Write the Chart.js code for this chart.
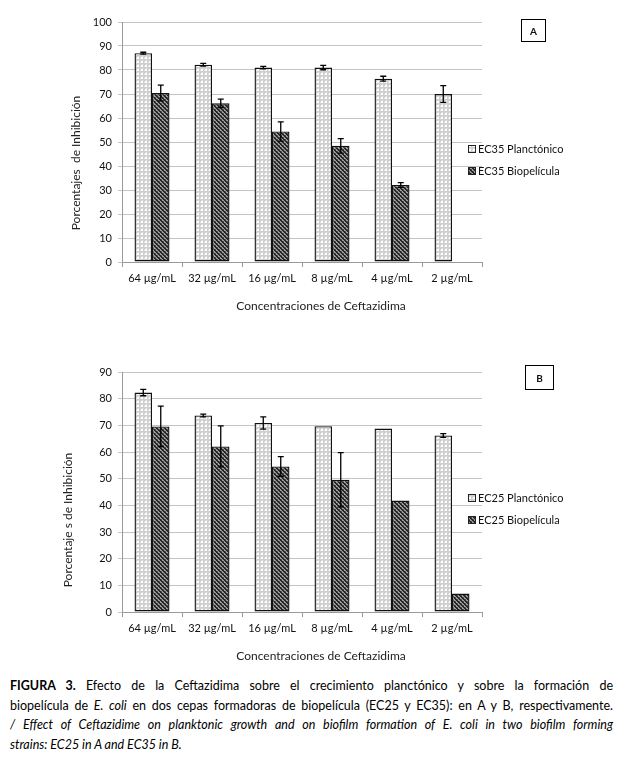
<!DOCTYPE html>
<html lang="es">
<head>
<meta charset="UTF-8">
<title>Figura 3</title>
<script src="https://cdn.jsdelivr.net/npm/chart.js@4.4.1/dist/chart.umd.min.js"></script>
<style>
  body { margin: 0; background: #fff; }
  #page { position: relative; width: 624px; height: 777px; background: #fff; font-family: Lato, sans-serif; color: #111; }
  canvas { position: absolute; left: 0; }
  .ytitle { position: absolute; transform: translate(-50%, -50%) rotate(-90deg); white-space: nowrap; font-size: 12px; color: #222; }
  .xtitle { position: absolute; transform: translate(-50%, -50%); white-space: nowrap; font-size: 12px; color: #222; }
  .tag { position: absolute; border: 1px solid #000; font-size: 10px; font-weight: bold; display: flex; align-items: center; justify-content: center; box-sizing: border-box; }
  #caption { position: absolute; left: 10px; top: 676px; width: 603px; font-size: 12.5px; line-height: 19.7px; color: #000; }
  #caption .j { text-align: justify; text-align-last: justify; }
</style>
</head>
<body>
<div id="page">
  <canvas id="chartA" width="624" height="316" style="top:0"></canvas>
  <canvas id="chartB" width="624" height="325" style="top:340px"></canvas>

  <div class="ytitle" style="left:75px; top:163px">Porcentajes&nbsp; de Inhibición</div>
  <div class="xtitle" style="left:321px; top:305px">Concentraciones de Ceftazidima</div>
  <div class="tag" style="left:521px; top:19px; width:25px; height:23px">A</div>

  <div class="ytitle" style="left:67px; top:520px">Porcentaje s de Inhibición</div>
  <div class="xtitle" style="left:321px; top:655px">Concentraciones de Ceftazidima</div>
  <div class="tag" style="left:525px; top:365px; width:29px; height:25px">B</div>

  <div id="caption">
    <div class="j"><b>FIGURA 3.</b> Efecto de la Ceftazidima sobre el crecimiento planctónico y sobre la formación de</div>
    <div class="j">biopelícula de <i>E. coli</i> en dos cepas formadoras de biopelícula (EC25 y EC35): en A y B, respectivamente.</div>
    <div class="j"><i>/ Effect of Ceftazidime on planktonic growth and on biofilm formation of E. coli in two biofilm forming</i></div>
    <div><i>strains: EC25 in A and EC35 in B.</i></div>
  </div>
</div>
<script>
const labels = ['64 µg/mL', '32 µg/mL', '16 µg/mL', '8 µg/mL', '4 µg/mL', '2 µg/mL'];

// A: EC35
const planA    = [87, 82.2, 81, 81, 76.4, 70];
const planAErr = [0.4, 0.6, 0.5, 0.9, 1, 3.5];
const bioA     = [70.4, 66.1, 54.4, 48.4, 32.1, null];
const bioAErr  = [3.3, 1.8, 4, 3, 1, null];

// B: EC25
const planB    = [82.3, 73.7, 70.9, 69.7, 68.8, 66.2];
const planBErr = [1.2, 0.5, 2.3, 0, 0, 0.7];
const bioB     = [69.6, 62.1, 54.6, 49.6, 41.8, 6.9];
const bioBErr  = [7.6, 7.7, 3.7, 10.2, 0, 0];

Chart.defaults.font.family = 'Lato, sans-serif';

// light mesh: grey lattice with white holes
function lightPattern() {
  const c = document.createElement('canvas');
  c.width = 4; c.height = 4;
  const g = c.getContext('2d');
  g.fillStyle = '#cfcfcf';
  g.fillRect(0, 0, 4, 4);
  g.fillStyle = '#ffffff';
  g.fillRect(1, 1, 2, 2);
  g.fillStyle = '#e6e6e6';
  g.fillRect(0, 2, 1, 1); g.fillRect(2, 0, 1, 1);
  return g.createPattern(c, 'repeat');
}

// dark diagonal hatch
function darkPattern() {
  const c = document.createElement('canvas');
  c.width = 4; c.height = 4;
  const g = c.getContext('2d');
  g.fillStyle = '#9c9c9c';
  g.fillRect(0, 0, 4, 4);
  g.fillStyle = '#262626';
  for (let i = 0; i < 4; i++) {
    g.fillRect(i, i, 1, 1);
    g.fillRect((i + 1) % 4, i, 1, 1);
  }
  g.fillStyle = '#5a5a5a';
  g.fillRect(3, 1, 1, 1); g.fillRect(1, 3, 1, 1);
  return g.createPattern(c, 'repeat');
}

// error bars, drawn from each dataset's "errors" array
const errorBars = {
  id: 'errorBars',
  afterDatasetsDraw(chart) {
    const ctx = chart.ctx;
    const y = chart.scales.y;
    ctx.save();
    ctx.strokeStyle = '#000';
    ctx.lineWidth = 1.3;
    chart.data.datasets.forEach((ds, i) => {
      const meta = chart.getDatasetMeta(i);
      meta.data.forEach((bar, j) => {
        const v = ds.data[j], e = ds.errors[j];
        if (v == null || !e) return;
        const top = y.getPixelForValue(v + e);
        const bot = y.getPixelForValue(v - e);
        ctx.beginPath();
        ctx.moveTo(bar.x, top); ctx.lineTo(bar.x, bot);
        ctx.moveTo(bar.x - 3, top); ctx.lineTo(bar.x + 3, top);
        ctx.moveTo(bar.x - 3, bot); ctx.lineTo(bar.x + 3, bot);
        ctx.stroke();
      });
    });
    ctx.restore();
  }
};

const boxLegend = {
  id: 'boxLegend',
  afterDraw(chart, args, opts) {
    const ctx = chart.ctx;
    ctx.save();
    chart.data.datasets.forEach((ds, i) => {
      const y = opts.y + i * opts.gap;
      ctx.fillStyle = ds.backgroundColor;
      ctx.fillRect(opts.x, y - 4, 8, 8);
      ctx.strokeStyle = '#222';
      ctx.lineWidth = 1;
      ctx.strokeRect(opts.x + 0.5, y - 3.5, 7, 7);
      ctx.fillStyle = '#111';
      ctx.font = '11px Lato, sans-serif';
      ctx.textBaseline = 'middle';
      ctx.fillText(ds.label, opts.x + 10, y);
    });
    ctx.restore();
  }
};

function makeChart(id, names, plan, planErr, bio, bioErr, yMax, padTop, xHeight, legendY) {
  const ctx = document.getElementById(id).getContext('2d');
  return new Chart(ctx, {
    type: 'bar',
    data: {
      labels: labels,
      datasets: [
        { label: names[0], data: plan, errors: planErr, backgroundColor: lightPattern(),
          borderColor: '#111', borderWidth: 1.4, borderSkipped: false,
          categoryPercentage: 0.583, barPercentage: 1 },
        { label: names[1], data: bio, errors: bioErr, backgroundColor: darkPattern(),
          borderColor: '#111', borderWidth: 1.4, borderSkipped: false,
          categoryPercentage: 0.583, barPercentage: 1 }
      ]
    },
    options: {
      responsive: false,
      animation: false,
      layout: { padding: { top: padTop, right: 142, left: 0, bottom: 0 } },
      plugins: {
        legend: { display: false },
        tooltip: { enabled: false },
        boxLegend: { x: 468, y: legendY, gap: 22 }
      },
      scales: {
        x: {
          grid: { offset: true, drawOnChartArea: false, tickLength: 5, color: '#9a9a9a' },
          border: { color: '#9a9a9a' },
          ticks: { padding: 5, color: '#111', font: { size: 11 }, maxRotation: 0 },
          afterFit: s => { s.height = xHeight; }
        },
        y: {
          min: 0, max: yMax,
          grid: { color: '#c4c4c4', tickLength: 4 },
          border: { color: '#9a9a9a' },
          ticks: { stepSize: 10, padding: 6, color: '#111', font: { size: 11 } },
          afterFit: s => { s.width = 122; }
        }
      }
    },
    plugins: [errorBars, boxLegend]
  });
}

makeChart('chartA', ['EC35 Planctónico', 'EC35 Biopelícula'], planA, planAErr, bioA, bioAErr, 100, 22, 54, 149);
makeChart('chartB', ['EC25 Planctónico', 'EC25 Biopelícula'], planB, planBErr, bioB, bioBErr, 90, 32, 53, 158);
</script>
</body>
</html>
